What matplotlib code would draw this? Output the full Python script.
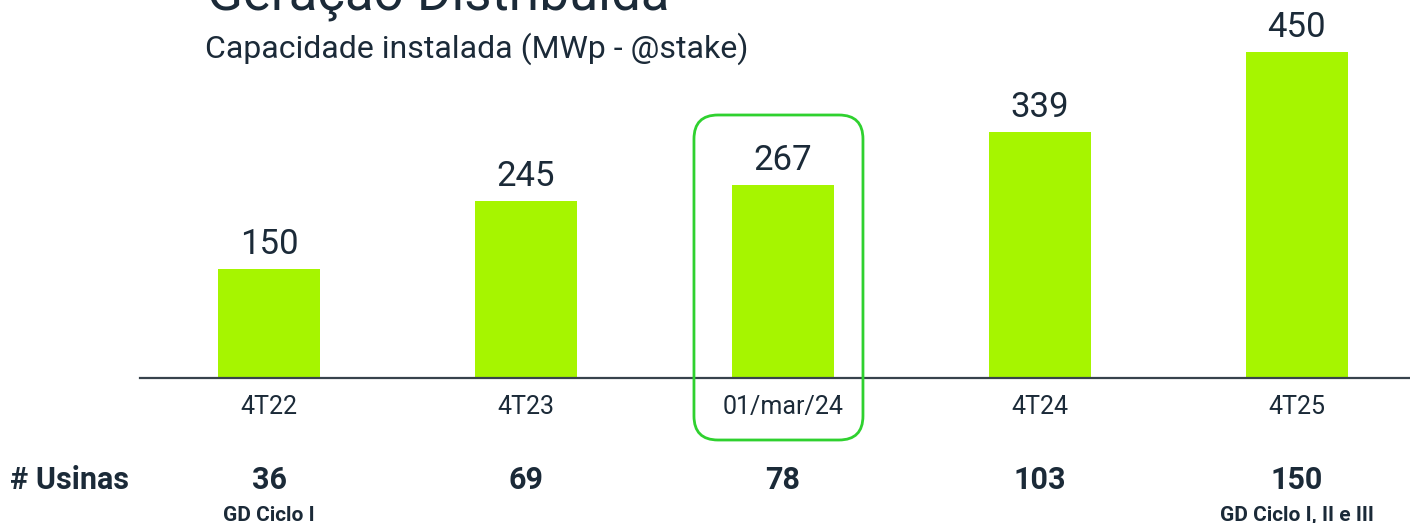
import numpy as np
import matplotlib.pyplot as plt
import matplotlib.transforms as mtransforms
from matplotlib.patches import FancyBboxPatch

# data
periodos = ["4T22", "4T23", "01/mar/24", "4T24", "4T25"]
capacidade = [150, 245, 267, 339, 450]
usinas = [36, 69, 78, 103, 150]
notas = ["GD Ciclo I", "", "", "", "GD Ciclo I, II e III"]

verde = "#a6f500"
escuro = "#1b2a38"
plt.rcParams["font.family"] = ["Roboto", "DejaVu Sans"]

fig = plt.figure(figsize=(14.1, 5.23), dpi=100)
fig.patch.set_facecolor("white")
ax = fig.add_axes([140 / 1410, 1 - 378 / 523, 1 - 140 / 1410, 378 / 523])

x = np.arange(len(periodos))
ax.bar(x, capacidade, width=0.4, color=verde)
for xi, v in zip(x, capacidade):
    ax.text(xi, v + 11, str(v), ha="center", va="bottom", fontsize=25, color=escuro)

ax.set_xlim(-0.502, 4.44)
ax.set_ylim(0, 521.8)
ax.set_xticks(x)
ax.set_xticklabels(periodos, fontsize=18, color=escuro)
ax.tick_params(axis="x", length=0, pad=12)
ax.set_yticks([])
for s in ["top", "right", "left"]:
    ax.spines[s].set_visible(False)
ax.spines["bottom"].set_color("#37424c")
ax.spines["bottom"].set_linewidth(1.6)
ax.set_facecolor("none")

# titles (the big title is cut off at the top in the original slide)
fig.text(207 / 1410, 1 - 10 / 523, "Geração Distribuída", fontsize=38, color=escuro,
         ha="left", va="baseline")
fig.text(205 / 1410, 1 - 58 / 523, "Capacidade instalada (MWp - @stake)", fontsize=23,
         color=escuro, ha="left", va="baseline")

# usinas row
trans = mtransforms.blended_transform_factory(ax.transData, fig.transFigure)
fig.text(10 / 1410, 1 - 489 / 523, "# Usinas", fontsize=22, fontweight="bold",
         color=escuro, ha="left", va="baseline")
for xi, n, nota in zip(x, usinas, notas):
    ax.text(xi, 1 - 489 / 523, str(n), transform=trans, ha="center", va="baseline",
            fontsize=22, fontweight="bold", color=escuro, clip_on=False)
    if nota:
        ax.text(xi, 1 - 521 / 523, nota, transform=trans, ha="center", va="baseline",
                fontsize=15, fontweight="bold", color=escuro, clip_on=False)

# highlight box around the current bar
fig.canvas.draw()
cx = ax.transData.transform((x[2], 0))[0]
box = FancyBboxPatch((cx - 89, 83), 169, 325, boxstyle="round,pad=0,rounding_size=24",
                     transform=mtransforms.IdentityTransform(), fill=False,
                     edgecolor="#2fd12f", linewidth=2)
fig.patches.append(box)

fig.savefig("out.png", dpi=100)
